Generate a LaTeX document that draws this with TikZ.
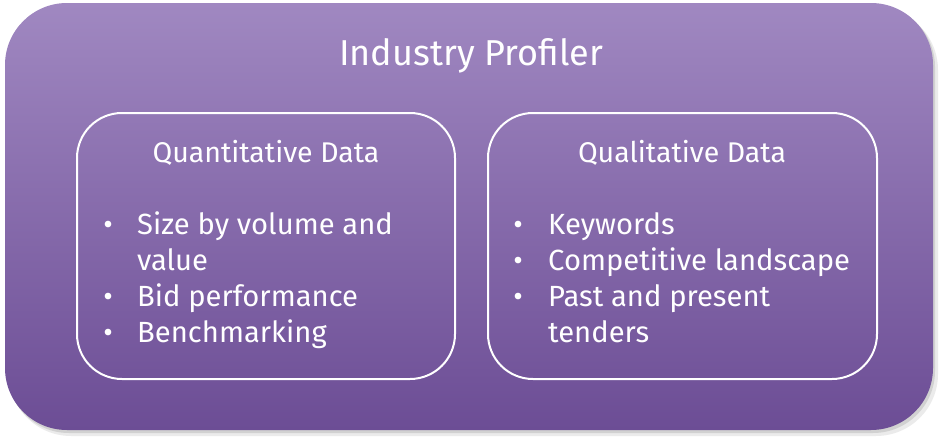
\documentclass[tikz,border=0pt]{standalone}
\usepackage{fontspec}
\setmainfont{Fira Sans}
\usetikzlibrary{positioning}
\definecolor{proftop}{RGB}{160,136,193}
\definecolor{profbottom}{RGB}{108,77,149}
\tikzset{
profbox/.style={rounded corners=62pt, top color=proftop, bottom color=profbottom, minimum width=928pt, minimum height=427pt, inner sep=0pt}, % the big purple panel
databox/.style={rounded corners=45pt, draw=white, line width=2pt, minimum height=266pt, inner sep=0pt},
title/.style={text=white, font=\fontsize{36}{42}\selectfont, anchor=base},
head/.style={text=white, font=\fontsize{28.5}{33}\selectfont, anchor=base},
itemtext/.style={text=white, font=\fontsize{29.2}{36}\selectfont, anchor=base west, inner sep=0pt},
itemdot/.style={text=white, font=\fontsize{29.2}{36}\selectfont, anchor=base, inner sep=0pt},
}
\begin{document}
\begin{tikzpicture}[x=1pt, y=-1pt]
        \useasboundingbox (0,0) rectangle (940,439);
        %shadow
        \fill[black!8, rounded corners=62pt] (9,8) rectangle (938,436);
        \fill[black!18, rounded corners=62pt] (7,5) rectangle (935,433);
        \node[profbox] (profiler) at (469,216.5) {};
        \node[title] (name) at (471,65) {Industry Profiler};
        \node[databox, minimum width=378pt] (quant) at (266,246) {};
        \node[databox, minimum width=389pt] (qual) at (682.5,246) {};
        \node[head] (quanthead) at (266,162) {Quantitative Data};
        \node[head] (qualhead) at (682,162) {Qualitative Data};
        %Quantitative list
        \node[itemdot] (qd1) at (108,234) {\textbullet};
        \node[itemtext] (q1) at (137,234) {Size by volume and};
        \node[itemtext] (q2) at (137,270) {value};
        \node[itemdot] (qd3) at (108,306) {\textbullet};
        \node[itemtext] (q3) at (137,306) {Bid performance};
        \node[itemdot] (qd4) at (108,342) {\textbullet};
        \node[itemtext] (q4) at (137,342) {Benchmarking};
        %Qualitative list
        \node[itemdot] (ld1) at (518,234) {\textbullet};
        \node[itemtext] (l1) at (548,234) {Keywords};
        \node[itemdot] (ld2) at (518,270) {\textbullet};
        \node[itemtext] (l2) at (548,270) {Competitive landscape};
        \node[itemdot] (ld3) at (518,306) {\textbullet};
        \node[itemtext] (l3) at (548,306) {Past and present};
        \node[itemtext] (l4) at (548,342) {tenders};
\end{tikzpicture}
\end{document}
